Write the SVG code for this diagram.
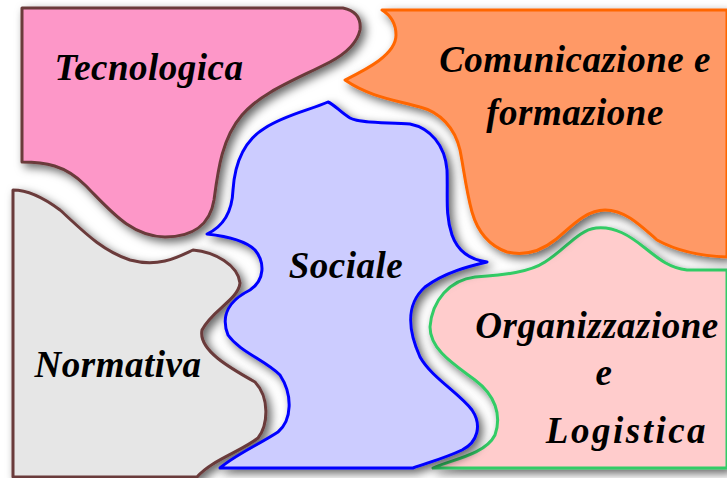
<svg xmlns="http://www.w3.org/2000/svg" width="727" height="478" viewBox="0 0 727 478">
<defs>
<filter id="sh" x="-10%" y="-10%" width="120%" height="120%">
<feGaussianBlur in="SourceAlpha" stdDeviation="5" result="b"/>
<feOffset in="b" dx="4" dy="4" result="o"/>
<feFlood flood-color="#000" flood-opacity="0.6"/>
<feComposite in2="o" operator="in" result="s"/>
<feMerge><feMergeNode in="s"/><feMergeNode in="SourceGraphic"/></feMerge>
</filter>
<style>
.p{stroke-width:3;stroke-linejoin:round;filter:url(#sh)}
.t{font-family:"Liberation Serif","DejaVu Serif",serif;font-style:italic;font-weight:bold;font-size:37px;letter-spacing:0.5px;fill:#000;text-anchor:middle}
</style>
</defs>
<rect width="727" height="478" fill="#fff"/>
<g id="normativa">
<path class="p" fill="#e6e6e6" stroke="#6b3a3a" d="M13,190 C25,190 40,195 60,210 C80,228 100,250 130,260 C160,268 180,256 193,250 C215,252 238,265 240,283 C238,300 212,310 202,330 C198,350 230,368 255,382 C270,398 268,425 258,438 C240,452 212,460 197,477 L13,477 Z"/>
<text class="t" x="118" y="377">Normativa</text>
</g>
<g id="tecnologica">
<path class="p" fill="#fd97c8" stroke="#6b3a3a" d="M22,8 L343,8 Q362,12 360,30 Q356,48 330,62 C295,80 262,92 242,115 C222,138 218,170 214,200 C210,225 192,237 165,237 C130,236 110,210 85,185 C65,165 45,162 22,162 Z"/>
<text class="t" x="149" y="80">Tecnologica</text>
</g>
<g id="organizzazione">
<path class="p" fill="#ffcccc" stroke="#33cc66" d="M727,270 L687,270 C670,268 660,260 645,248 C630,236 615,226 596,228 C578,230 565,250 545,262 C530,272 505,275 475,277 C450,280 432,300 430,327 C430,350 455,365 475,380 C495,395 502,415 495,435 C485,455 450,460 433,468 L727,468 Z"/>
<text class="t" x="597" y="338">Organizzazione</text>
<text class="t" x="604" y="385">e</text>
<text class="t" x="627" y="443" style="letter-spacing:2.5px">Logistica</text>
</g>
<g id="comunicazione">
<path class="p" fill="#ff9966" stroke="#ff6600" d="M382,10 L727,10 L727,257 C700,256 675,250 657,240 C640,225 625,210 605,210 C585,210 570,228 555,240 C540,252 525,256 507,252 C490,246 478,233 472,212 C466,190 464,170 460,150 C455,128 440,112 420,107 C395,100 370,97 345,80 C365,70 396,55 396,35 C396,22 390,15 382,10 Z"/>
<text class="t" x="575" y="72">Comunicazione e</text>
<text class="t" x="575" y="125">formazione</text>
</g>
<g id="sociale">
<path class="p" fill="#ccccff" stroke="#0000ff" d="M328,102 C335,105 340,112 350,118 C362,124 390,122 410,124 C430,128 445,145 447,170 C448,195 445,215 452,235 C458,252 472,260 487,262 C470,266 445,272 425,287 C405,305 408,330 420,357 C432,378 458,392 472,410 C482,425 478,442 462,450 C445,458 430,462 413,468 L220,468 C235,455 258,445 278,432 C292,420 293,395 280,375 C265,360 240,352 228,335 C220,315 230,300 250,290 C265,280 265,262 255,250 C245,240 225,236 207,234 C220,228 232,215 233,190 C235,160 245,140 265,128 C285,115 310,110 328,102 Z"/>
<text class="t" x="346" y="278">Sociale</text>
</g>
<g id="connectors"></g>
</svg>
